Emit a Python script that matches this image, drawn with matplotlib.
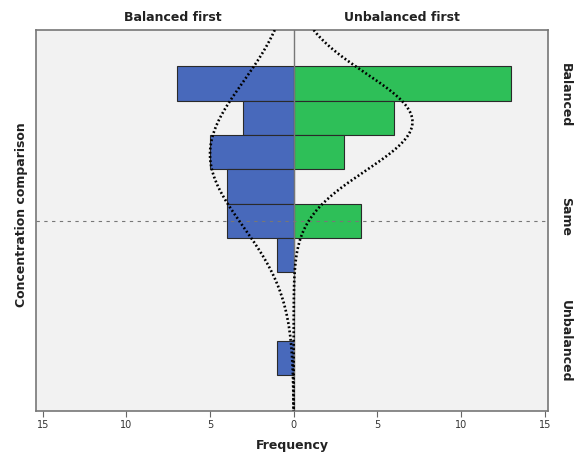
import numpy as np
import matplotlib
matplotlib.use("Agg")
import matplotlib.pyplot as plt

# histogram bins (top to bottom), counts
bins = np.arange(1, 10)
balanced_first = [7, 3, 5, 4, 4, 1, 0, 0, 1]
unbalanced_first = [13, 6, 3, 0, 4, 0, 0, 0, 0]

# normal curves: peak frequency, centre bin, sd in bins
curve_balanced = (5.0, 3.06, 2.1)
curve_unbalanced = (7.1, 2.12, 1.42)

cat_labels = ["Balanced", "Same", "Unbalanced"]
cat_pos = [1.3, 4.85, 8.5]
same_line = 5.0

xticks = [-15, -10, -5, 0, 5, 10, 15]

BLUE = "#4869bb"
GREEN = "#2ebf58"
BG = "#f2f2f2"


def normal_curve(params, y):
    peak, mean, sd = params
    return peak * np.exp(-0.5 * ((y - mean) / sd) ** 2)


fig = plt.figure(figsize=(5.76, 4.56), dpi=100)
ax = fig.add_axes([36 / 576, 44 / 456, 512 / 576, 381 / 456])
ax.set_facecolor(BG)

ylim = (10.55, -0.56)

# bars
for b, c in zip(bins, balanced_first):
    if c:
        ax.barh(b, -c, height=1, color=BLUE, edgecolor="#2a2a2a", linewidth=0.8, zorder=2)
for b, c in zip(bins, unbalanced_first):
    if c:
        ax.barh(b, c, height=1, color=GREEN, edgecolor="#2a2a2a", linewidth=0.8, zorder=2)

# reference lines
ax.axvline(0, color="#777777", linewidth=1, zorder=3)
ax.axhline(same_line, color="#777777", linewidth=0.8, linestyle=(0, (3, 4)), zorder=3)

# fitted normal curves
yy = np.linspace(ylim[1], ylim[0], 400)
ax.plot(-normal_curve(curve_balanced, yy), yy, color="black", linewidth=1.9,
        linestyle=(0, (0.7, 0.9)), zorder=4)
ax.plot(normal_curve(curve_unbalanced, yy), yy, color="black", linewidth=1.9,
        linestyle=(0, (0.7, 0.9)), zorder=4)

ax.set_xlim(-15.4, 15.2)
ax.set_ylim(*ylim)

ax.set_xticks(xticks)
ax.set_xticklabels([str(abs(t)) for t in xticks], fontsize=7, color="#333333")
ax.tick_params(axis="x", direction="out", length=4, color="#666666", pad=2)

ax.yaxis.tick_right()
ax.set_yticks(cat_pos)
ax.set_yticklabels(cat_labels, rotation=-90, va="center", fontsize=9,
                   fontweight="bold", color="#222222")
ax.tick_params(axis="y", length=0, pad=8)

for s in ax.spines.values():
    s.set_color("#777777")
    s.set_linewidth(1.2)

ax.set_xlabel("Frequency", fontsize=9, fontweight="bold", color="#222222", labelpad=6)
fig.text(22 / 576, 0.53, "Concentration comparison", rotation=90, ha="center",
         va="center", fontsize=9, fontweight="bold", color="#222222")

ax.text(-7.2, -0.76, "Balanced first", ha="center", va="bottom", fontsize=9,
        fontweight="bold", color="#222222")
ax.text(6.5, -0.76, "Unbalanced first", ha="center", va="bottom", fontsize=9,
        fontweight="bold", color="#222222")

fig.savefig("out.png", dpi=100)
